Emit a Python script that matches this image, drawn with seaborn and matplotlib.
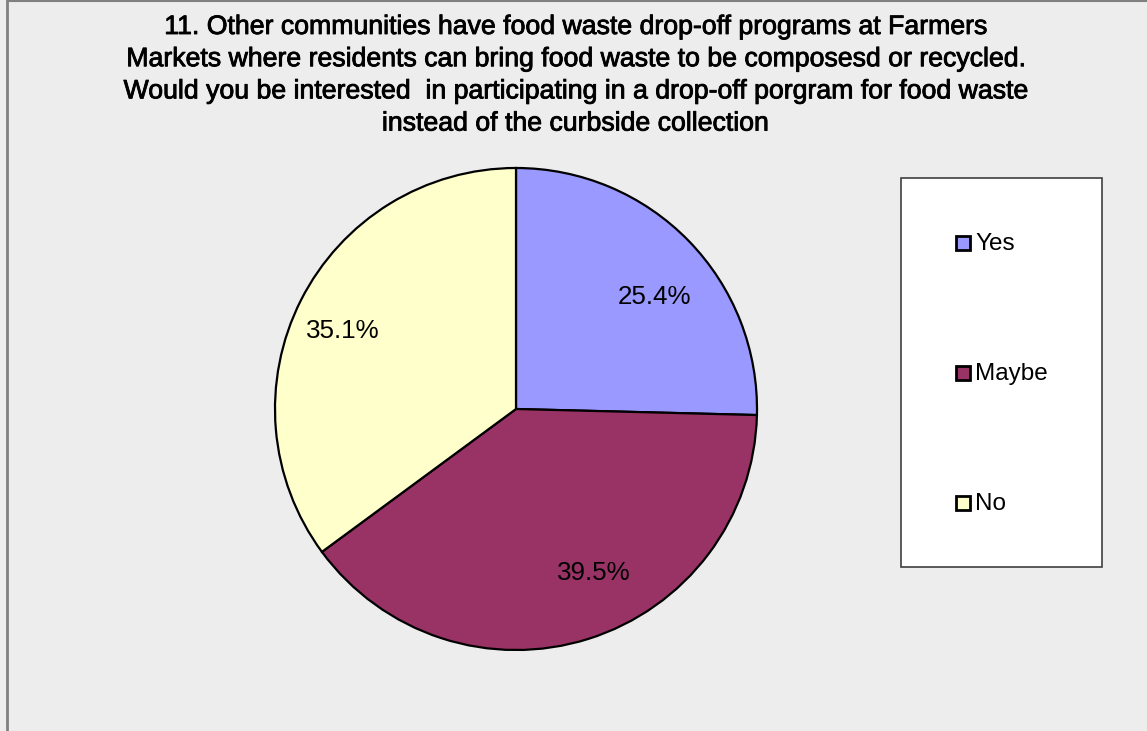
import matplotlib
matplotlib.use("Agg")
import matplotlib.pyplot as plt
import matplotlib.transforms as mtransforms
import matplotlib.patheffects as pe
import seaborn as sns
from matplotlib.patches import Rectangle
from matplotlib.lines import Line2D

sns.set_theme(style="white")
plt.rcParams["font.family"] = ["Liberation Sans", "DejaVu Sans"]

# Survey responses
categories = ["Yes", "Maybe", "No"]
shares = [25.4, 39.5, 35.1]
colors = ["#9999FF", "#993366", "#FFFFCC"]
title_lines = [
    "11. Other communities have food waste drop-off programs at Farmers",
    "Markets where residents can bring food waste to be composesd or recycled.",
    "Would you be interested  in participating in a drop-off porgram for food waste",
    "instead of the curbside collection",
]

W, H = 1147, 731
fig = plt.figure(figsize=(W / 100, H / 100), dpi=100)
fig.patch.set_facecolor("#EDEDED")

# Outer frame lines (left and top)
fig.add_artist(Line2D([6.5 / W, 6.5 / W], [0, 1 - 1 / H], color="#808080", lw=2,
                      transform=fig.transFigure))
fig.add_artist(Line2D([6.5 / W, 1], [1 - 1 / H, 1 - 1 / H], color="#808080", lw=1.5,
                      transform=fig.transFigure))

fig.text(575 / W, 1 - 14 / H, "\n".join(title_lines), ha="center", va="top",
         fontsize=19.2, linespacing=1.31, color="black",
         path_effects=[pe.withStroke(linewidth=0.6, foreground="black")])

# Pie area
cx, cy, r = 516, 409, 241
ax = fig.add_axes([(cx - r) / W, (H - cy - r) / H, 2 * r / W, 2 * r / H])
wedges, texts, autotexts = ax.pie(
    shares, colors=colors, startangle=90, counterclock=False,
    autopct=lambda p: f"{p:.1f}%", pctdistance=0.75,
    wedgeprops=dict(edgecolor="black", linewidth=1.6),
    textprops=dict(fontsize=18.7, color="black"),
)
ax.set_aspect("equal")
ax.set_xlim(-1, 1)
ax.set_ylim(-1, 1)
ax.axis("off")

# Small nudges of the percentage labels inside their slices (pixels: right, down)
nudges = [(9, 14), (24, -8), (-12, 4)]
for t, (dx, dy) in zip(autotexts, nudges):
    t.set_transform(mtransforms.offset_copy(ax.transData, fig=fig, x=dx, y=-dy,
                                            units="dots"))

# Legend box
lx0, ly0, lx1, ly1 = 901, 178, 1102, 567
fig.add_artist(Rectangle((lx0 / W, 1 - ly1 / H), (lx1 - lx0) / W, (ly1 - ly0) / H,
                         transform=fig.transFigure, facecolor="white",
                         edgecolor="#404040", lw=1.2))
ys = [242.5, 372.5, 502.5]
for cat, col, y in zip(categories, colors, ys):
    fig.add_artist(Rectangle((956 / W, 1 - (y + 7) / H), 14 / W, 14 / H,
                             transform=fig.transFigure, facecolor=col,
                             edgecolor="black", lw=2))
    fig.text(975 / W, 1 - (y + 1.5) / H, cat, ha="left", va="center", fontsize=17.5,
             color="black")

fig.savefig("out.png", dpi=100, facecolor=fig.get_facecolor())
